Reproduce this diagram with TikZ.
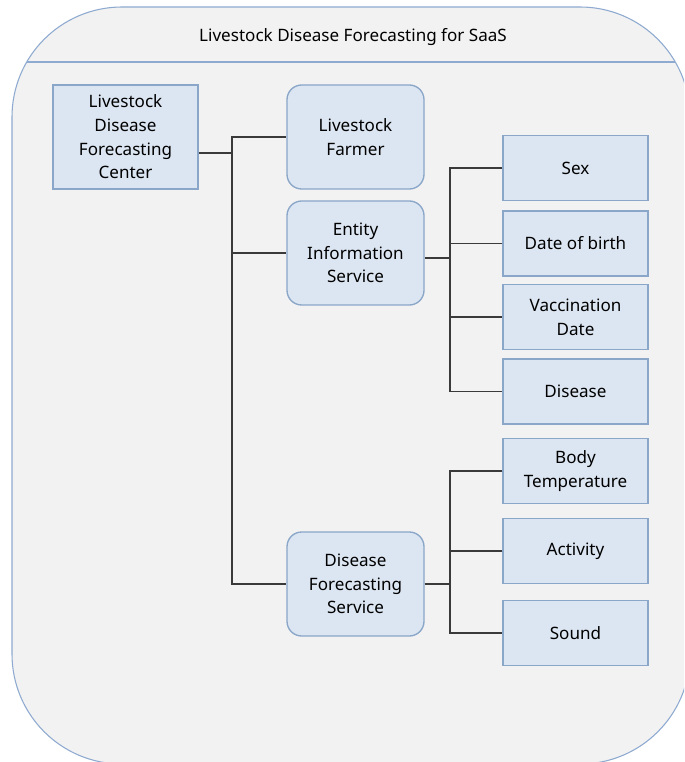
\documentclass[tikz,border=0pt]{standalone}
\usepackage{fontspec}
\setmainfont{Noto Sans}
\usetikzlibrary{positioning}

\definecolor{panelfill}{HTML}{F2F2F2}
\definecolor{panelline}{HTML}{8EAAD0}
\definecolor{boxfill}{HTML}{DCE6F2}
\definecolor{boxline}{HTML}{8AA6C8}
\definecolor{wire}{HTML}{3A3A3A}

\tikzset{
  lbl/.style={font=\fontsize{12.8}{17.8}\selectfont, align=center, inner sep=0pt},
  center box/.style={lbl, draw=boxline, fill=boxfill, line width=1pt,
    minimum width=108.75pt, minimum height=78pt},
  service box/.style={center box, rounded corners=11pt, minimum width=102.75pt},
  item box/.style={center box, minimum height=48.75pt},
  wire/.style={draw=wire, line width=0.8pt},
}

\begin{document}
\begin{tikzpicture}[x=0.75pt,y=-0.75pt]
\clip (0,0) rectangle (684,762);
\fill[white] (0,0) rectangle (684,762);
% outer frame and title bar
\draw[panelline, fill=panelfill, line width=0.8pt, rounded corners=82.5pt]
  (12,7) rectangle (690,764);
\begin{scope}
\clip[rounded corners=82.5pt] (12,7) rectangle (690,764);
\draw[panelline, line width=0.8pt] (0,62) -- (700,62);
\end{scope}
\node[lbl] (title) at (353,37) {Livestock Disease Forecasting for SaaS};

% left column
\node[center box] (center) at (125.5,137) {Livestock\\Disease\\Forecasting\\Center};

% services
\node[service box] (farmer) at (355.5,137) {Livestock\\Farmer};
\node[service box] (entity) at (355.5,253) {Entity\\Information\\Service};
\node[service box] (forecast) at (355.5,584) {Disease\\Forecasting\\Service};

% entity items
\node[item box] (sex) at (575.5,168) {Sex};
\node[item box] (birth) at (575.5,243.5) {Date of birth};
\node[item box] (vaccine) at (575.5,317) {Vaccination\\Date};
\node[item box] (disease) at (575.5,391.5) {Disease};

% sensor items
\node[item box] (temp) at (575.5,471) {Body\\Temperature};
\node[item box] (activity) at (575.5,551) {Activity};
\node[item box] (sound) at (575.5,633) {Sound};

% connectors
\coordinate (busL) at (232,153);
\coordinate (busE) at (450,258);
\coordinate (busF) at (450,584);
\draw[wire] (center.east |- busL) -- (busL);
\draw[wire] (farmer.west) -| (busL) |- (forecast.west);
\draw[wire] (entity.west) -- (entity.west -| busL);
\draw[wire] (entity.east |- busE) -- (busE);
\draw[wire] (sex.west) -| (busE) |- (disease.west);
\foreach \n in {birth,vaccine} \draw[wire] (\n.west) -- (\n.west -| busE);
\draw[wire] (forecast.east) -- (busF);
\draw[wire] (temp.west) -| (busF) |- (sound.west);
\draw[wire] (activity.west) -- (activity.west -| busF);
\end{tikzpicture}
\end{document}
